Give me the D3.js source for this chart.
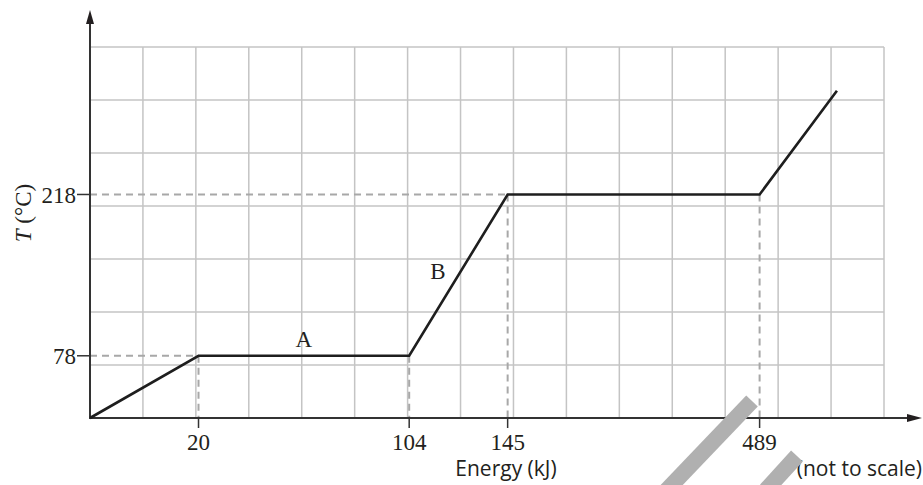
<!DOCTYPE html>
<meta charset="utf-8">
<html>
<head>
    <style>
        body { margin: 0; background: #fff; }
        .grid line { stroke: #c4c4c4; stroke-width: 1.5px; }
        .axis-line { stroke: #333; stroke-width: 2px; }
        .guide { fill: none; stroke: #a8a8a8; stroke-width: 2px; stroke-dasharray: 7,5; }
        .curve { fill: none; stroke: #1e1e1e; stroke-width: 2.6px; stroke-linejoin: miter; }
        .serif { font-family: "Liberation Serif", "Times New Roman", serif; font-size: 23px; fill: #231f20; }
        .sans { font-family: "Open Sans", sans-serif; font-size: 21px; fill: #231f20; }
        .mark { stroke: #b0b0b0; stroke-width: 16px; }
    </style>
    <script src="https://d3js.org/d3.v7.min.js"></script>
</head>
<body>
<svg id="svg" width="923" height="485"></svg>
<script>

    // heating curve (axis is not to scale)
    var energyTicks = [20, 104, 145, 489];
    var tempTicks = [78, 218];
    var curveEnergy = [0, 20, 104, 145, 489, 558];
    var curveTemp = [24, 78, 78, 218, 218, 308];
    var phaseLabels = [{name: "A", energy: 62, temp: 78}, {name: "B", energy: 116, temp: 137}];

    var svg = d3.select("svg"),
        gLeft = 90, gRight = 884, gTop = 47, gBottom = 418,
        cols = 15, rows = 7,
        colW = (gRight - gLeft) / cols;

    // energy axis is stretched piecewise, so map the energies onto grid columns
    var x = d3.scaleLinear()
        .domain([0, 20, 104, 145, 489, 600])
        .range([0, 2.05, 6.03, 7.89, 12.65, 15].map(function (c) { return gLeft + c * colW; }));

    var y = d3.scaleLinear()
        .domain([24, 346])
        .range([gBottom, gTop]);

    var grid = svg.append("g").attr("class", "grid");
    grid.selectAll(".v").data(d3.range(1, cols + 1)).enter().append("line")
        .attr("x1", function (i) { return gLeft + i * colW; })
        .attr("x2", function (i) { return gLeft + i * colW; })
        .attr("y1", gTop).attr("y2", gBottom);
    grid.selectAll(".h").data(d3.range(1, rows + 1)).enter().append("line")
        .attr("x1", gLeft).attr("x2", gRight)
        .attr("y1", function (i) { return gBottom - i * (gBottom - gTop) / rows; })
        .attr("y2", function (i) { return gBottom - i * (gBottom - gTop) / rows; });

    var pts = curveEnergy.map(function (e, i) { return [e, curveTemp[i]]; });

    // dashed guides to the axes
    var guides = svg.append("g");
    pts.slice(1, 5).forEach(function (p) {
        guides.append("path").attr("class", "guide")
            .attr("d", "M" + x(p[0]) + "," + y(p[1]) + "V" + gBottom);
    });
    tempTicks.forEach(function (t) {
        var first = pts.find(function (p) { return p[1] === t; });
        guides.append("path").attr("class", "guide")
            .attr("d", "M" + gLeft + "," + y(t) + "H" + x(first[0]));
    });

    // axes with arrow heads
    svg.append("line").attr("class", "axis-line")
        .attr("x1", gLeft).attr("x2", gLeft).attr("y1", gBottom + 1).attr("y2", 22);
    svg.append("path").attr("fill", "#231f20")
        .attr("d", "M" + gLeft + ",10L" + (gLeft - 4) + ",24L" + (gLeft + 4) + ",24Z");
    svg.append("line").attr("class", "axis-line")
        .attr("x1", gLeft).attr("x2", 910).attr("y1", gBottom).attr("y2", gBottom);
    svg.append("path").attr("fill", "#231f20")
        .attr("d", "M922," + gBottom + "L907," + (gBottom - 4) + "L907," + (gBottom + 4) + "Z");

    svg.append("path").attr("class", "curve")
        .attr("d", d3.line().x(function (d) { return x(d[0]); }).y(function (d) { return y(d[1]); })(pts));

    // ticks
    var xt = svg.append("g").selectAll("g").data(energyTicks).enter().append("g")
        .attr("transform", function (d) { return "translate(" + x(d) + "," + gBottom + ")"; });
    xt.append("line").attr("y2", 10).attr("stroke", "#333").attr("stroke-width", 1.5);
    xt.append("text").attr("class", "serif").attr("y", 32).attr("text-anchor", "middle")
        .text(function (d) { return d; });

    var yt = svg.append("g").selectAll("g").data(tempTicks).enter().append("g")
        .attr("transform", function (d) { return "translate(" + gLeft + "," + y(d) + ")"; });
    yt.append("line").attr("x2", -13).attr("stroke", "#333").attr("stroke-width", 1.5);
    yt.append("text").attr("class", "serif").attr("x", -14).attr("dy", "0.35em")
        .attr("text-anchor", "end").text(function (d) { return d; });

    svg.selectAll(".phase").data(phaseLabels).enter().append("text")
        .attr("class", "serif phase").attr("text-anchor", "middle")
        .attr("x", function (d) { return x(d.energy); })
        .attr("y", function (d) { return y(d.temp) - 9; })
        .text(function (d) { return d.name; });

    svg.append("text").attr("class", "sans").attr("x", 506).attr("y", 476)
        .attr("text-anchor", "middle").text("Energy (kJ)");
    svg.append("text").attr("class", "sans").attr("x", 922).attr("y", 476)
        .attr("text-anchor", "end").text("(not to scale)");

    var yl = svg.append("text").attr("class", "serif")
        .attr("transform", "translate(31,213) rotate(-90)").attr("text-anchor", "middle");
    yl.append("tspan").attr("font-style", "italic").text("T");
    yl.append("tspan").text(" (°C)");

    // grey overlay strokes
    svg.append("line").attr("class", "mark").attr("x1", 752).attr("y1", 401).attr("x2", 665).attr("y2", 492);
    svg.append("line").attr("class", "mark").attr("x1", 797).attr("y1", 456).attr("x2", 766).attr("y2", 490);

</script>
</body>
</html>
